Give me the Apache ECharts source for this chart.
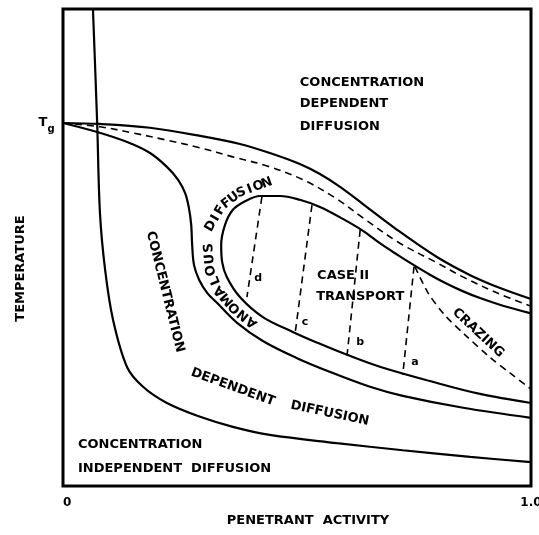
<!DOCTYPE html>
<html>
<head>
<meta charset="utf-8">
<script src="https://cdn.jsdelivr.net/npm/echarts@6/dist/echarts.min.js"></script>
<style>
html, body { margin: 0; padding: 0; background: #fff; }
#main { width: 539px; height: 535px; }
</style>
</head>
<body>
<div id="main"></div>
<script>
(function () {
    "use strict";

    // x = penetrant activity (0..1), y = temperature (relative, 0 bottom .. 1 top)
    const xTickValues = [0, 1];
    const xTickLabels = ['0', '1.0'];
    const tgValue = 0.761;

    // boundary: concentration independent / dependent
    const independentEdge = [
        [0.064, 1.0], [0.073, 0.761], [0.079, 0.572], [0.090, 0.453], [0.107, 0.348],
        [0.137, 0.249], [0.171, 0.208], [0.222, 0.174], [0.293, 0.145], [0.363, 0.124],
        [0.442, 0.107], [0.585, 0.090], [0.726, 0.075], [0.870, 0.061], [1.0, 0.050]
    ];
    // lower solid curve leaving Tg
    const lowerEdge = [
        [0, 0.761], [0.073, 0.742], [0.137, 0.721], [0.186, 0.698], [0.222, 0.669],
        [0.246, 0.642], [0.261, 0.614], [0.269, 0.583], [0.274, 0.547], [0.276, 0.505],
        [0.280, 0.463], [0.291, 0.432], [0.308, 0.405], [0.329, 0.384], [0.372, 0.342],
        [0.427, 0.304], [0.500, 0.268], [0.571, 0.239], [0.656, 0.208], [0.726, 0.189],
        [0.855, 0.164], [1.0, 0.143]
    ];
    // upper solid curve leaving Tg
    const upperEdge = [
        [0, 0.761], [0.079, 0.759], [0.186, 0.751], [0.293, 0.734], [0.378, 0.717],
        [0.442, 0.698], [0.506, 0.675], [0.549, 0.654], [0.592, 0.627], [0.641, 0.591],
        [0.714, 0.537], [0.799, 0.480], [0.870, 0.442], [0.934, 0.415], [1.0, 0.392]
    ];
    // dashed curve between them
    const glassDash = [
        [0, 0.761], [0.079, 0.753], [0.150, 0.740], [0.222, 0.725], [0.293, 0.709],
        [0.363, 0.690], [0.436, 0.671], [0.513, 0.642], [0.585, 0.602], [0.641, 0.562],
        [0.720, 0.509], [0.799, 0.468], [0.855, 0.438], [0.927, 0.405], [1.0, 0.377]
    ];
    // case II region (open loop to the right edge)
    const caseTwoLoop = [
        [1.0, 0.362], [0.940, 0.378], [0.891, 0.394], [0.855, 0.408], [0.818, 0.425],
        [0.784, 0.443], [0.748, 0.464], [0.714, 0.485], [0.677, 0.509], [0.641, 0.535],
        [0.598, 0.560], [0.549, 0.585], [0.506, 0.600], [0.464, 0.608], [0.421, 0.608],
        [0.389, 0.597], [0.363, 0.579], [0.346, 0.547], [0.338, 0.505], [0.340, 0.470],
        [0.350, 0.438], [0.378, 0.396], [0.427, 0.354], [0.491, 0.323], [0.549, 0.298],
        [0.607, 0.275], [0.677, 0.250], [0.784, 0.220], [0.891, 0.193], [1.0, 0.174]
    ];
    const crazingDash = [
        [0.752, 0.460], [0.780, 0.405], [0.816, 0.358], [0.859, 0.317], [0.912, 0.270],
        [0.955, 0.237], [1.0, 0.203]
    ];
    const tieA = [[0.750, 0.460], [0.726, 0.233]];
    const tieB = [[0.635, 0.537], [0.607, 0.274]];
    const tieC = [[0.532, 0.589], [0.496, 0.320]];
    const tieD = [[0.425, 0.606], [0.393, 0.396]];
    const tieNames = ['a', 'b', 'c', 'd'];

    const FONT = 'bold 13px "DejaVu Sans"';
    const SMALL_FONT = 'bold 11px "DejaVu Sans"';

    // label placement (data coords)
    const plainLabels = [
        { text: 'CONCENTRATION', at: [0.506, 0.845], align: 'left' },
        { text: 'DEPENDENT', at: [0.506, 0.801], align: 'left' },
        { text: 'DIFFUSION', at: [0.506, 0.753], align: 'left' },
        { text: 'CONCENTRATION', at: [0.032, 0.086], align: 'left' },
        { text: 'INDEPENDENT  DIFFUSION', at: [0.032, 0.036], align: 'left' },
        { text: 'CASE II', at: [0.543, 0.442], align: 'left' },
        { text: 'TRANSPORT', at: [0.541, 0.398], align: 'left' },
        { text: 'CRAZING', at: [0.887, 0.321], rotate: -43 },
        { text: 'CONCENTRATION', at: [0.218, 0.407], rotate: -76 },
        { text: 'DEPENDENT', at: [0.363, 0.207], rotate: -20 },
        { text: 'DIFFUSION', at: [0.570, 0.152], rotate: -12 }
    ];
    const tieLabelAt = [[0.752, 0.260], [0.635, 0.302], [0.517, 0.344], [0.417, 0.436]];
    const curvedLabels = [
        { text: 'ANOMALOUS', path: [[0.404, 0.344], [0.368, 0.373], [0.335, 0.409], [0.316, 0.453], [0.312, 0.499]] },
        { text: 'DIFFUSION', path: [[0.316, 0.545], [0.340, 0.585], [0.378, 0.614], [0.436, 0.635]] }
    ];

    function solid(data) {
        return {
            type: 'line', data: data, smooth: 0.35, symbol: 'none', silent: true,
            lineStyle: { color: '#000', width: 2.2 }
        };
    }
    function dashed(data, smooth) {
        return {
            type: 'line', data: data, smooth: smooth, symbol: 'none', silent: true,
            lineStyle: { color: '#000', width: 1.6, type: [7, 5] }
        };
    }

    const myChart = echarts.init(document.getElementById('main'), null, { renderer: 'canvas' });

    const option = {
        animation: false,
        backgroundColor: '#fff',
        grid: {
            left: 63, right: 8, top: 9, bottom: 49,
            outerBoundsMode: 'none', containLabel: false,
            show: true, borderColor: '#000', borderWidth: 3, backgroundColor: 'transparent'
        },
        xAxis: {
            type: 'value', min: xTickValues[0], max: xTickValues[1], interval: 1,
            axisLine: { show: false }, axisTick: { show: false }, splitLine: { show: false },
            axisLabel: {
                color: '#000', fontWeight: 'bold', fontSize: 12, fontFamily: 'DejaVu Sans', margin: 11,
                alignMinLabel: 'left',
                formatter: function (v) { return xTickLabels[xTickValues.indexOf(v)]; }
            },
            name: 'PENETRANT  ACTIVITY', nameLocation: 'middle', nameGap: 27,
            nameTextStyle: { color: '#000', fontWeight: 'bold', fontSize: 13, fontFamily: 'DejaVu Sans', padding: [0, 0, 0, 22] }
        },
        yAxis: {
            type: 'value', min: 0, max: 1,
            axisLine: { show: false }, axisTick: { show: false }, splitLine: { show: false },
            axisLabel: { show: false },
            name: 'TEMPERATURE', nameLocation: 'middle', nameGap: 36,
            nameTextStyle: { color: '#000', fontWeight: 'bold', fontSize: 13, fontFamily: 'DejaVu Sans', padding: [0, 42, 0, 0] }
        },
        series: [
            solid(independentEdge),
            solid(lowerEdge),
            solid(upperEdge),
            dashed(glassDash, 0.35),
            solid(caseTwoLoop),
            dashed(crazingDash, 0.3),
            dashed(tieA, false),
            dashed(tieB, false),
            dashed(tieC, false),
            dashed(tieD, false)
        ]
    };
    myChart.setOption(option);

    function toPx(p) {
        return myChart.convertToPixel({ gridIndex: 0 }, p);
    }
    function textEl(text, p, font, rotateDeg, align) {
        return {
            type: 'text', x: p[0], y: p[1], rotation: (rotateDeg || 0) * Math.PI / 180, z: 100, silent: true,
            style: { text: text, font: font, fill: '#000', align: align || 'center', verticalAlign: 'middle' }
        };
    }
    function alongPath(text, path, font) {
        const pts = path.map(toPx);
        const lens = [];
        let total = 0;
        for (let i = 0; i < pts.length - 1; i++) {
            const l = Math.hypot(pts[i + 1][0] - pts[i][0], pts[i + 1][1] - pts[i][1]);
            lens.push(l);
            total += l;
        }
        const els = [];
        const n = text.length;
        for (let i = 0; i < n; i++) {
            const s = total * i / (n - 1);
            let k = 0, acc = 0;
            while (k < lens.length - 1 && acc + lens[k] < s) { acc += lens[k]; k++; }
            const t = Math.min(1, (s - acc) / lens[k]);
            const a = pts[k], b = pts[k + 1];
            const x = a[0] + (b[0] - a[0]) * t;
            const y = a[1] + (b[1] - a[1]) * t;
            const rot = Math.atan2(-(b[1] - a[1]), b[0] - a[0]) * 180 / Math.PI;
            els.push(textEl(text[i], [x, y], font, rot));
        }
        return els;
    }

    let graphics = [];
    plainLabels.forEach(function (lb) {
        graphics.push(textEl(lb.text, toPx(lb.at), FONT, lb.rotate, lb.align));
    });
    tieNames.forEach(function (name, i) {
        graphics.push(textEl(name, toPx(tieLabelAt[i]), SMALL_FONT));
    });
    curvedLabels.forEach(function (lb) {
        graphics = graphics.concat(alongPath(lb.text, lb.path, FONT));
    });
    // Tg mark on the temperature axis
    const tg = toPx([0, tgValue]);
    graphics.push(textEl('T', [tg[0] - 20, tg[1]], 'bold 13px "DejaVu Sans"'));
    graphics.push(textEl('g', [tg[0] - 12, tg[1] + 6], 'bold 10px "DejaVu Sans"'));

    myChart.setOption({ graphic: graphics });

    window.addEventListener('resize', function () {
        myChart.resize();
    });
})();
</script>
</body>
</html>
